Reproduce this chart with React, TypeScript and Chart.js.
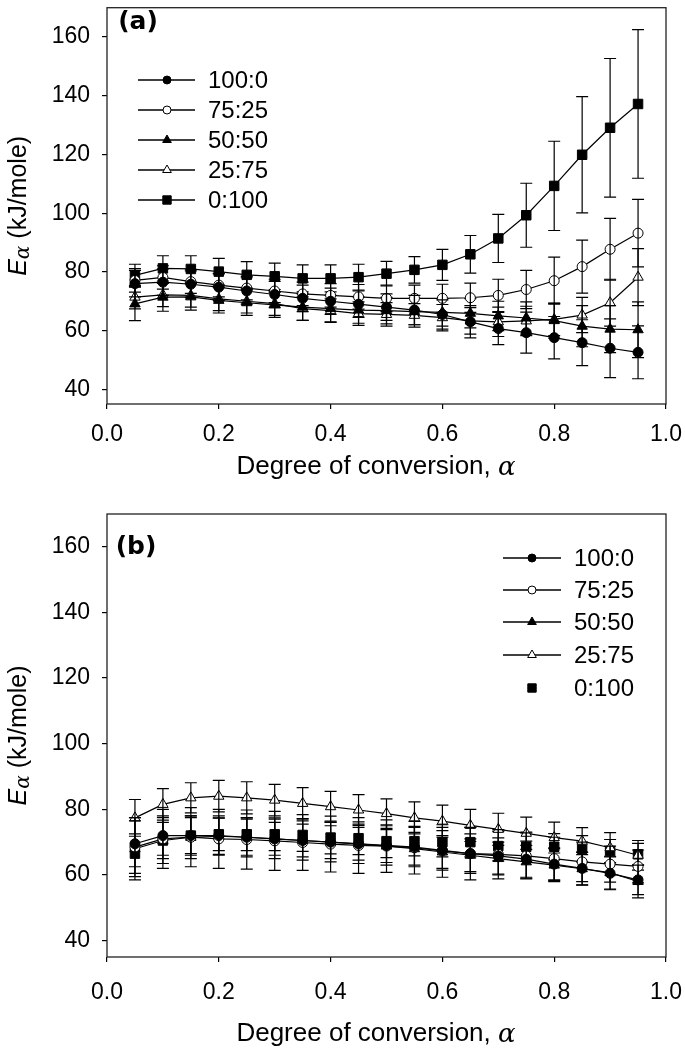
import React, { useEffect, useRef } from 'react';
import { Chart, registerables } from 'chart.js';

Chart.register(...registerables);

// ---------- data ----------
const ALPHA = [0.05, 0.1, 0.15, 0.2, 0.25, 0.3, 0.35, 0.4, 0.45, 0.5, 0.55, 0.6, 0.65, 0.7, 0.75, 0.8, 0.85, 0.9, 0.95];
const SERIES_NAMES = ['100:0', '75:25', '50:50', '25:75', '0:100'];
const X_TICKS = [0, 0.2, 0.4, 0.6, 0.8, 1.0];
const Y_TICKS = [40, 60, 80, 100, 120, 140, 160];

// panel (a)
const A_100_0 = [76.0, 76.5, 75.8, 74.8, 73.5, 72.3, 71.0, 70.0, 69.0, 68.0, 67.0, 65.5, 63.0, 60.7, 59.3, 57.6, 55.9, 54.0, 52.6];
const A_75_25 = [77.1, 78.1, 76.7, 75.5, 74.5, 73.5, 72.5, 72.0, 71.5, 71.0, 71.0, 71.0, 71.2, 72.0, 74.0, 77.0, 81.8, 87.7, 93.2];
const A_50_50 = [69.1, 71.4, 71.5, 70.3, 69.5, 68.8, 68.0, 67.5, 67.0, 66.8, 66.5, 66.2, 65.9, 65.0, 64.3, 63.4, 61.5, 60.5, 60.3];
const A_25_75 = [71.4, 72.2, 72.0, 70.8, 70.0, 69.2, 67.5, 66.8, 65.8, 65.5, 65.2, 64.4, 63.3, 63.0, 63.3, 63.8, 65.3, 69.5, 78.2];
const A_0_100 = [78.8, 81.2, 81.0, 80.1, 79.0, 78.5, 77.8, 77.8, 78.2, 79.4, 80.7, 82.4, 86.0, 91.4, 99.3, 109.3, 119.9, 129.1, 137.2];

const A_ERR_100_0 = [4.5, 4.5, 4.5, 4.5, 4.5, 4.5, 4.5, 4.5, 4.5, 4.5, 5.0, 5.0, 5.5, 5.5, 7.0, 7.2, 7.8, 10.0, 9.0];
const A_ERR_75_25 = [4.0, 4.0, 4.0, 4.0, 4.0, 4.0, 4.0, 4.0, 4.2, 4.5, 4.5, 4.8, 5.0, 5.5, 6.5, 8.0, 9.0, 10.5, 11.5];
const A_ERR_50_50 = [5.7, 4.8, 4.5, 4.3, 4.3, 4.3, 4.5, 4.5, 4.5, 4.5, 4.5, 4.7, 5.0, 5.0, 5.5, 6.0, 7.0, 8.0, 9.5];
const A_ERR_25_75 = [4.0, 4.0, 4.0, 4.0, 4.0, 4.0, 4.0, 4.0, 4.0, 4.0, 4.0, 4.5, 4.5, 5.0, 5.0, 5.5, 6.0, 8.0, 9.7];
const A_ERR_0_100 = [3.8, 4.3, 4.5, 4.5, 4.5, 4.5, 4.6, 4.6, 4.4, 4.2, 4.5, 5.3, 6.4, 8.2, 10.9, 15.2, 19.8, 23.6, 25.3];

// panel (b)
const B_100_0 = [69.5, 72.0, 72.0, 72.0, 71.5, 71.0, 70.5, 70.0, 69.5, 69.0, 68.5, 67.5, 66.5, 65.8, 64.8, 63.3, 62.0, 60.5, 58.5];
const B_75_25 = [68.5, 71.0, 71.5, 71.0, 70.8, 70.4, 69.9, 69.4, 69.0, 68.8, 68.3, 67.3, 66.5, 66.3, 65.8, 65.0, 64.0, 63.3, 62.6];
const B_50_50 = [68.0, 70.5, 71.5, 71.8, 71.5, 71.0, 70.5, 70.0, 69.5, 68.8, 68.0, 67.0, 66.0, 65.0, 64.0, 63.0, 61.9, 60.7, 58.0];
const B_25_75 = [77.4, 81.5, 83.5, 84.0, 83.5, 82.8, 81.8, 80.8, 79.8, 78.7, 77.4, 76.4, 75.1, 73.9, 72.7, 71.4, 70.3, 68.3, 66.0];
const B_0_100 = [66.5, 70.5, 72.0, 72.4, 72.4, 72.4, 72.2, 71.4, 71.2, 70.3, 70.3, 70.0, 70.0, 68.8, 68.6, 68.6, 68.0, 67.3, 66.3];

const B_ERR_100_0 = [7.0, 6.0, 6.0, 6.0, 6.0, 6.0, 6.0, 6.0, 6.0, 6.0, 6.0, 6.0, 6.0, 5.5, 5.5, 5.0, 5.0, 5.0, 4.5];
const B_ERR_75_25 = [9.0, 9.0, 9.0, 9.0, 9.0, 9.0, 8.5, 8.5, 8.5, 8.0, 8.0, 8.0, 8.0, 7.5, 7.0, 6.5, 6.0, 5.5, 5.0];
const B_ERR_50_50 = [9.5, 7.0, 6.5, 5.5, 5.5, 5.0, 5.0, 5.0, 5.0, 5.0, 5.0, 5.0, 5.0, 5.0, 5.0, 5.0, 5.0, 5.0, 5.0];
const B_ERR_25_75 = [5.6, 4.8, 4.6, 4.8, 4.9, 4.8, 4.8, 4.7, 4.7, 4.5, 4.9, 4.9, 4.9, 4.9, 4.9, 4.7, 4.1, 4.6, 4.5];
const B_ERR_0_100 = [6.0, 5.5, 5.5, 5.0, 5.0, 5.0, 5.0, 5.0, 5.0, 5.0, 4.5, 4.5, 4.5, 4.5, 4.5, 4.0, 4.0, 3.5, 3.3];

// ---------- styles ----------
const MARKERS = [
  { style: 'circle', fill: '#000', r: 5 },
  { style: 'circle', fill: '#fff', r: 5 },
  { style: 'triangle', fill: '#000', r: 6 },
  { style: 'triangle', fill: '#fff', r: 6 },
  { style: 'rect', fill: '#000', r: 6.7 },
];

const FONT = "'Liberation Sans', Arial, sans-serif";

function drawMarker(ctx: CanvasRenderingContext2D, style: string, x: number, y: number, r: number, fill: string) {
  ctx.beginPath();
  if (style === 'circle') {
    ctx.arc(x, y, r, 0, Math.PI * 2);
  } else if (style === 'triangle') {
    const h = r;
    ctx.moveTo(x, y - h);
    ctx.lineTo(x + h * Math.sin((2 * Math.PI) / 3), y - h * Math.cos((2 * Math.PI) / 3));
    ctx.lineTo(x + h * Math.sin((4 * Math.PI) / 3), y - h * Math.cos((4 * Math.PI) / 3));
    ctx.closePath();
  } else {
    const s = r;
    ctx.rect(x - s, y - s, 2 * s, 2 * s);
  }
  ctx.fillStyle = fill;
  ctx.fill();
  ctx.lineWidth = 1;
  ctx.strokeStyle = '#000';
  ctx.stroke();
}

const errorBarPlugin = {
  id: 'errorBars',
  afterDatasetDraw(chart: any, args: any) {
    const ds = chart.data.datasets[args.index];
    const errs: number[] | undefined = ds.errors;
    if (!errs) return;
    const yScale = chart.scales.y;
    const ctx = chart.ctx as CanvasRenderingContext2D;
    ctx.save();
    ctx.strokeStyle = '#000';
    ctx.lineWidth = 1.2;
    args.meta.data.forEach((pt: any, i: number) => {
      const v = ds.data[i].y;
      const e = errs[i];
      const x = pt.x;
      const yt = yScale.getPixelForValue(v + e);
      const yb = yScale.getPixelForValue(v - e);
      ctx.beginPath();
      ctx.moveTo(x, yt);
      ctx.lineTo(x, yb);
      ctx.moveTo(x - 6, yt);
      ctx.lineTo(x + 6, yt);
      ctx.moveTo(x - 6, yb);
      ctx.lineTo(x + 6, yb);
      ctx.stroke();
    });
    ctx.restore();
  },
};

const decorPlugin = {
  id: 'decor',
  afterDraw(chart: any, _args: any, opts: any) {
    const ctx = chart.ctx as CanvasRenderingContext2D;
    const ca = chart.chartArea;
    ctx.save();
    // frame
    ctx.strokeStyle = '#222';
    ctx.lineWidth = 1.3;
    ctx.strokeRect(ca.left, ca.top, ca.right - ca.left, ca.bottom - ca.top);

    // panel label
    ctx.fillStyle = '#000';
    ctx.font = "bold 25px 'DejaVu Sans', sans-serif";
    ctx.textAlign = 'center';
    ctx.textBaseline = 'middle';
    ctx.fillText(opts.panelLabel, opts.labelX, opts.labelY);

    // x title
    ctx.textBaseline = 'middle';
    ctx.textAlign = 'left';
    const t1 = 'Degree of conversion, ';
    ctx.font = `26px ${FONT}`;
    const w1 = ctx.measureText(t1).width;
    ctx.font = "italic 26px 'DejaVu Serif', serif";
    const w2 = ctx.measureText('α').width;
    const sx = opts.xTitleCenter - (w1 + w2) / 2;
    ctx.font = `26px ${FONT}`;
    ctx.fillText(t1, sx, opts.xTitleY);
    ctx.font = "italic 26px 'DejaVu Serif', serif";
    ctx.fillText('α', sx + w1, opts.xTitleY + 1);

    // y title (rotated)
    ctx.save();
    const yc = (ca.top + ca.bottom) / 2;
    ctx.translate(opts.yTitleX, yc);
    ctx.rotate(-Math.PI / 2);
    ctx.textBaseline = 'middle';
    ctx.textAlign = 'left';
    ctx.font = `italic 25px ${FONT}`;
    const we = ctx.measureText('E').width;
    ctx.font = "italic 20px 'DejaVu Serif', serif";
    const wa = ctx.measureText('α').width;
    ctx.font = `25px ${FONT}`;
    const wr = ctx.measureText(' (kJ/mole)').width;
    let px = -(we + wa + wr) / 2;
    ctx.font = `italic 25px ${FONT}`;
    ctx.fillText('E', px, 0);
    px += we;
    ctx.font = "italic 20px 'DejaVu Serif', serif";
    ctx.fillText('α', px, 5);
    px += wa;
    ctx.font = `25px ${FONT}`;
    ctx.fillText(' (kJ/mole)', px, 0);
    ctx.restore();

    // legend
    const lg = opts.legend;
    ctx.font = `24px ${FONT}`;
    ctx.textAlign = 'left';
    ctx.textBaseline = 'middle';
    SERIES_NAMES.forEach((name, i) => {
      const y = lg.rows[i];
      if (!lg.noLine[i]) {
        ctx.beginPath();
        ctx.strokeStyle = '#000';
        ctx.lineWidth = 1.3;
        ctx.moveTo(lg.x0, y);
        ctx.lineTo(lg.x1, y);
        ctx.stroke();
      }
      const m = MARKERS[i];
      const lr = m.style === 'circle' ? 4 : m.style === 'triangle' ? 5 : 4.2;
      drawMarker(ctx, m.style, lg.xm, y, lr, m.fill);
      ctx.fillStyle = '#000';
      ctx.fillText(name, lg.xt, y + 1);
    });
    ctx.restore();
  },
};

function makeDatasets(values: number[][], errors: number[][], noLine: boolean[]) {
  return values.map((vals, i) => ({
    label: SERIES_NAMES[i],
    data: ALPHA.map((a, j) => ({ x: a, y: vals[j] })),
    errors: errors[i],
    showLine: !noLine[i],
    borderColor: '#000',
    borderWidth: 1.2,
    pointStyle: MARKERS[i].style,
    pointRadius: MARKERS[i].r,
    pointBackgroundColor: MARKERS[i].fill,
    pointBorderColor: '#000',
    pointBorderWidth: 1,
    tension: 0,
    clip: false,
  }));
}

function makeConfig(p: any): any {
  return {
    type: 'line',
    data: { datasets: makeDatasets(p.values, p.errors, p.noLine) },
    options: {
      animation: false,
      responsive: false,
      maintainAspectRatio: false,
      layout: { padding: { left: 0, right: p.padRight, top: p.padTop, bottom: 0 } },
      plugins: {
        legend: { display: false },
        tooltip: { enabled: false },
        decor: p.decor,
      },
      scales: {
        x: {
          type: 'linear',
          min: 0,
          max: 1,
          afterBuildTicks: (s: any) => {
            s.ticks = X_TICKS.map((v) => ({ value: v }));
          },
          afterFit: (s: any) => {
            s.height = p.xAxisHeight;
            s.paddingLeft = 0;
            s.paddingRight = 0;
          },
          border: { display: false },
          grid: { drawOnChartArea: false, drawTicks: true, tickLength: 5, color: '#000', lineWidth: 1.2 },
          ticks: {
            autoSkip: false,
            maxRotation: 0,
            padding: p.xTickPad,
            color: '#000',
            font: { family: FONT, size: 23, lineHeight: 1 },
            callback: (v: any) => Number(v).toFixed(1),
          },
        },
        y: {
          type: 'linear',
          min: 35,
          max: 170,
          afterBuildTicks: (s: any) => {
            s.ticks = Y_TICKS.map((v) => ({ value: v }));
          },
          afterFit: (s: any) => {
            s.width = 107;
            s.paddingTop = 0;
            s.paddingBottom = 0;
          },
          border: { display: false },
          grid: { drawOnChartArea: false, drawTicks: true, tickLength: 5, color: '#000', lineWidth: 1.2 },
          ticks: {
            padding: 12,
            color: '#000',
            font: { family: FONT, size: 23, lineHeight: 1 },
            callback: (v: any) => String(v),
          },
        },
      },
    },
    plugins: [errorBarPlugin, decorPlugin],
  };
}

const PANEL_A = {
  values: [A_100_0, A_75_25, A_50_50, A_25_75, A_0_100],
  errors: [A_ERR_100_0, A_ERR_75_25, A_ERR_50_50, A_ERR_25_75, A_ERR_0_100],
  noLine: [false, false, false, false, false],
  padTop: 3,
  padRight: 19,
  xAxisHeight: 86,
  xTickPad: 14,
  decor: {
    panelLabel: '(a)',
    labelX: 138,
    labelY: 22,
    xTitleCenter: 376,
    xTitleY: 467,
    yTitleX: 19,
    legend: { x0: 138, x1: 195, xm: 167, xt: 208, rows: [80, 110, 140, 170, 200], noLine: [false, false, false, false, false] },
  },
};

const PANEL_B = {
  values: [B_100_0, B_75_25, B_50_50, B_25_75, B_0_100],
  errors: [B_ERR_100_0, B_ERR_75_25, B_ERR_50_50, B_ERR_25_75, B_ERR_0_100],
  noLine: [false, false, false, false, true],
  padTop: 24,
  padRight: 19,
  xAxisHeight: 92,
  xTickPad: 19,
  decor: {
    panelLabel: '(b)',
    labelX: 136,
    labelY: 57,
    xTitleCenter: 376,
    xTitleY: 544,
    yTitleX: 19,
    legend: { x0: 503, x1: 561, xm: 532, xt: 574, rows: [68, 100, 132, 165, 198], noLine: [false, false, false, false, true] },
  },
};

function Panel({ cfg, top, height }: { cfg: any; top: number; height: number }) {
  const ref = useRef<HTMLCanvasElement | null>(null);
  useEffect(() => {
    if (!ref.current) return;
    const chart = new Chart(ref.current, makeConfig(cfg));
    return () => chart.destroy();
  }, [cfg]);
  return (
    <canvas
      ref={ref}
      width={685}
      height={height}
      style={{ position: 'absolute', left: 0, top, width: 685, height }}
    />
  );
}

export default function App() {
  useEffect(() => {
    document.body.style.margin = '0';
    document.body.style.background = '#fff';
  }, []);
  return (
    <div style={{ position: 'relative', width: 685, height: 1049, background: '#fff' }}>
      <Panel cfg={PANEL_A} top={0} height={490} />
      <Panel cfg={PANEL_B} top={490} height={559} />
    </div>
  );
}
